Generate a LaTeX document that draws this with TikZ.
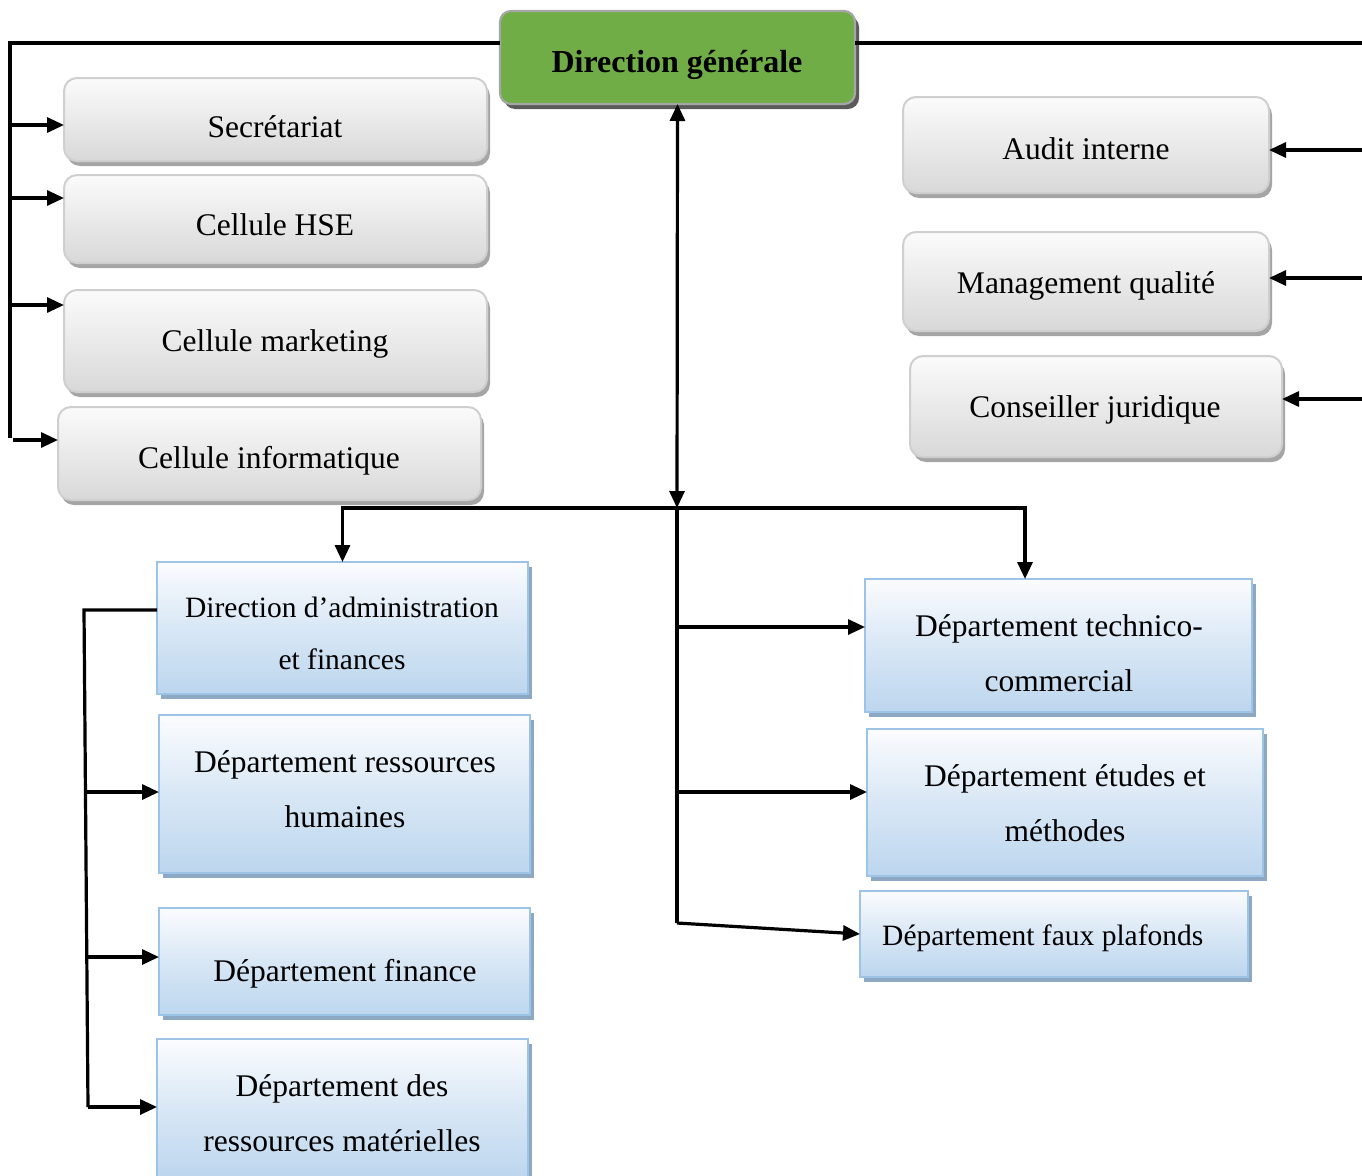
\documentclass[tikz,border=0pt]{standalone}
\usepackage{fontspec}
\setmainfont{Liberation Serif}
\usetikzlibrary{arrows.meta,shadows}

\definecolor{headGreen}{HTML}{70AD47}
\definecolor{headEdge}{HTML}{A6A6A6}
\definecolor{headShadow}{HTML}{5A5A5A}
\definecolor{greyTop}{HTML}{FBFBFB}
\definecolor{greyBot}{HTML}{D8D8D8}
\definecolor{greyEdge}{HTML}{CFCFCF}
\definecolor{greyShadow}{HTML}{A5A5A5}
\definecolor{blueTop}{HTML}{FBFCFE}
\definecolor{blueBot}{HTML}{BCD6EE}
\definecolor{blueEdge}{HTML}{9DC3E6}
\definecolor{blueShadow}{HTML}{8DA8C2}

\tikzset{
  box/.style={anchor=north west, inner sep=0pt, outer sep=0pt},
  headbox/.style={box, rounded corners=11pt, fill=headGreen, draw=headEdge,
    line width=2.2pt,
    drop shadow={shadow xshift=4pt, shadow yshift=-5pt, fill=headShadow, opacity=1}},
  greybox/.style={box, rounded corners=13pt, top color=greyTop, bottom color=greyBot,
    draw=greyEdge, line width=2pt,
    drop shadow={shadow xshift=3pt, shadow yshift=-5pt, fill=greyShadow, opacity=1}},
  bluebox/.style={box, top color=blueTop, bottom color=blueBot, middle color=blueBot!55!blueTop,
    draw=blueEdge, line width=2.2pt,
    drop shadow={shadow xshift=4pt, shadow yshift=-5pt, fill=blueShadow, opacity=1}},
  lbl/.style={anchor=base, inner sep=0pt, font=\fontsize{31.5}{55}\selectfont},
  lblsm/.style={anchor=base, inner sep=0pt, font=\fontsize{29.5}{53}\selectfont},
  wire/.style={line width=3.2pt, black},
  arr/.style={wire, -{Triangle[length=17pt,width=15pt]}},
  arrboth/.style={wire, {Triangle[length=17pt,width=15pt]}-{Triangle[length=17pt,width=15pt]}},
}

\begin{document}
\begin{tikzpicture}[x=1pt,y=-1pt]
\useasboundingbox (0,0) rectangle (1362,1175);

% ---------- boxes ----------
\node[headbox, minimum width=355pt, minimum height=93pt] (dg) at (500,11) {};

\node[greybox, minimum width=423pt, minimum height=83pt] (secr) at (64,78) {};
\node[greybox, minimum width=423pt, minimum height=88pt] (hse)  at (64,175) {};
\node[greybox, minimum width=423pt, minimum height=102pt] (mkt) at (64,290) {};
\node[greybox, minimum width=423pt, minimum height=93pt] (info) at (58,407) {};

\node[greybox, minimum width=366pt, minimum height=96pt] (audit) at (903,97) {};
\node[greybox, minimum width=366pt, minimum height=99pt] (mq)    at (903,232) {};
\node[greybox, minimum width=372pt, minimum height=101pt] (cj)   at (910,356) {};

\node[bluebox, minimum width=371pt, minimum height=132pt] (daf) at (157,562) {};
\node[bluebox, minimum width=371pt, minimum height=158pt] (drh) at (159,715) {};
\node[bluebox, minimum width=371pt, minimum height=107pt] (fin) at (159,908) {};
\node[bluebox, minimum width=371pt, minimum height=140pt] (drm) at (157,1039) {};

\node[bluebox, minimum width=387pt, minimum height=133pt] (tc) at (865,579) {};
\node[bluebox, minimum width=396pt, minimum height=147pt] (em) at (867,729) {};
\node[bluebox, minimum width=388pt, minimum height=86pt]  (fp) at (860,891) {};

% ---------- texts ----------
\node[lbl, font=\fontsize{32}{38}\selectfont\bfseries] (dgT) at (677,72) {Direction générale};

\node[lbl] (secrT)  at (275,137) {Secrétariat};
\node[lbl] (hseT)   at (275,235) {Cellule HSE};
\node[lbl] (mktT)   at (275,351) {Cellule marketing};
\node[lbl] (infoT)  at (269,468) {Cellule informatique};

\node[lbl] (auditT) at (1086,159) {Audit interne};
\node[lbl] (mqT)    at (1086,293) {Management qualité};
\node[lbl] (cjT)    at (1095,417) {Conseiller juridique};

\node[lblsm] (dafT1) at (342,617) {Direction d’administration};
\node[lblsm] (dafT2) at (342,669) {et finances};
\node[lbl] (drhT1) at (345,772) {Département ressources};
\node[lbl] (drhT2) at (345,827) {humaines};
\node[lbl] (finT)  at (345,981) {Département finance};
\node[lbl] (drmT1) at (342,1096) {Département des};
\node[lbl] (drmT2) at (342,1151) {ressources matérielles};

\node[lbl] (tcT1) at (1059,636) {Département technico-};
\node[lbl] (tcT2) at (1059,691) {commercial};
\node[lbl] (emT1) at (1065,786) {Département études et};
\node[lbl] (emT2) at (1065,841) {méthodes};
\node[lblsm, anchor=base west] (fpT) at (882,945) {Département faux plafonds};

% ---------- junction points ----------
\coordinate (topL)  at (10,43);
\coordinate (busLb) at (10,438);
\coordinate (topR)  at (1362,43);
\coordinate (hub)   at (677,508);
\coordinate (hubB)  at (677,923);
\coordinate (hubR)  at (1025,508);
\coordinate (brT)   at (84,610);
\coordinate (brB)   at (88,1107);

% ---------- top bus ----------
\draw[wire] (dg.west |- topL) -- (topL) -- (busLb);
\draw[wire] (dg.east |- topR) -- (topR);

% left staff arrows
\coordinate (aSecr) at (10,125);
\coordinate (aHse)  at (10,198);
\coordinate (aMkt)  at (10,305);
\coordinate (aInfo) at (13,440);
\draw[arr] (aSecr) -- (aSecr -| secr.west);
\draw[arr] (aHse)  -- (aHse -| hse.west);
\draw[arr] (aMkt)  -- (aMkt -| mkt.west);
\draw[arr] (aInfo) -- (aInfo -| info.west);

% right staff arrows
\coordinate (aAudit) at (1362,150);
\coordinate (aMq)    at (1362,278);
\coordinate (aCj)    at (1362,399);
\draw[arr] (aAudit) -- (aAudit -| audit.east);
\draw[arr] (aMq)    -- (aMq -| mq.east);
\draw[arr] (aCj)    -- (aCj -| cj.east);

% ---------- central trunk ----------
\draw[arrboth] (dg.south) -- (hub);
\draw[wire] (hub) -- (hubB);
\draw[arr] (hub) -- (hub -| daf.north) -- (daf.north);
\draw[arr] (hub) -- (hubR) -- (hubR |- tc.north);

\coordinate (aTc) at (677,627);
\coordinate (aEm) at (677,792);
\draw[arr] (aTc) -- (aTc -| tc.west);
\draw[arr] (aEm) -- (aEm -| em.west);
\draw[arr] (hubB) -- (fp.west);

% ---------- administration bracket ----------
\draw[wire] (brT -| daf.west) -- (brT) -- (brB);
\coordinate (aDrh) at (86,792);
\coordinate (aFin) at (87,957);
\draw[arr] (aDrh) -- (aDrh -| drh.west);
\draw[arr] (aFin) -- (aFin -| fin.west);
\draw[arr] (brB) -- (brB -| drm.west);
\end{tikzpicture}
\end{document}
